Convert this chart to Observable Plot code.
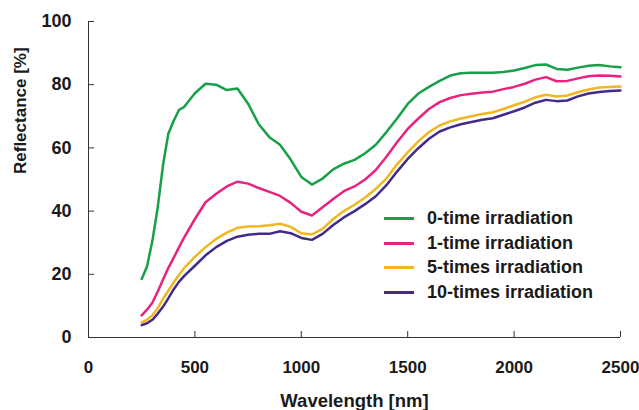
<!DOCTYPE html>
<html>
<head>
<meta charset="utf-8">
<script src="https://cdn.jsdelivr.net/npm/d3@7"></script>
<script src="https://cdn.jsdelivr.net/npm/@observablehq/plot@0.6"></script>
<style>
  html, body { margin: 0; padding: 0; background: #fff; }
  #wrap { position: relative; width: 639px; height: 410px; font-family: "Liberation Sans", Arial, sans-serif; }
  #legend { position: absolute; left: 384px; top: 206px; }
  .item { display: flex; align-items: center; height: 24.8px; }
  .swatch { width: 30px; height: 3px; margin-right: 13px; }
  .label { font-size: 18px; font-weight: bold; color: #1a1a1a; white-space: nowrap; }
</style>
</head>
<body>
<div id="wrap"></div>
<script>
// ---- data ----
const wavelengths = [250, 275, 300, 325, 350, 375, 400, 425, 450, 500, 550, 600, 650, 700, 750, 800, 850, 900, 950, 1000, 1050, 1100, 1150, 1200, 1250, 1300, 1350, 1400, 1450, 1500, 1550, 1600, 1650, 1700, 1750, 1800, 1850, 1900, 1950, 2000, 2050, 2100, 2150, 2200, 2250, 2300, 2350, 2400, 2450, 2500];
const seriesNames = ["0-time irradiation", "1-time irradiation", "5-times irradiation", "10-times irradiation"];
const seriesColors = ["#17a047", "#e8237e", "#f2b620", "#432a8a"];
const time0 = [18.5, 22.5, 30.5, 41, 54.5, 64.5, 68.5, 72, 73, 77.3, 80.3, 80, 78.3, 78.8, 74, 67.5, 63.4, 61, 56.3, 50.8, 48.4, 50.3, 53.2, 55, 56.2, 58.3, 61, 65, 69.3, 73.9, 77.2, 79.3, 81.2, 82.9, 83.6, 83.8, 83.8, 83.8, 84, 84.5, 85.3, 86.2, 86.4, 85, 84.7, 85.4, 86, 86.2, 85.8, 85.5];
const time1 = [7, 8.8, 11, 14.5, 18.3, 22, 25.2, 28.5, 31.7, 37.5, 42.8, 45.5, 47.8, 49.3, 48.7, 47.3, 46.1, 44.8, 42.6, 39.8, 38.6, 41.2, 43.8, 46.3, 47.8, 50, 53, 57.2, 61.8, 66, 69.3, 72.3, 74.5, 75.8, 76.7, 77.1, 77.5, 77.8, 78.6, 79.3, 80.3, 81.6, 82.4, 81.1, 81.2, 82, 82.7, 82.9, 82.8, 82.6];
const times5 = [4.8, 5.6, 7, 9.2, 12.2, 14.8, 17.4, 19.8, 22, 25.5, 28.6, 31.2, 33.2, 34.7, 35.1, 35.2, 35.5, 36, 35, 33, 32.6, 34.4, 37.5, 40, 42, 44.3, 47, 50.3, 54.8, 58.6, 62.1, 65, 67.1, 68.4, 69.3, 70, 70.7, 71.3, 72.3, 73.5, 74.6, 76, 76.8, 76.3, 76.6, 77.6, 78.5, 79.1, 79.3, 79.4];
const times10 = [3.9, 4.5, 5.6, 7.5, 9.7, 12.4, 15.2, 17.6, 19.5, 22.7, 26, 28.6, 30.6, 31.9, 32.5, 32.8, 32.8, 33.6, 33, 31.5, 30.9, 32.8, 35.6, 38, 40, 42.2, 44.7, 48.2, 52.5, 56.5, 59.9, 62.9, 65.2, 66.5, 67.5, 68.2, 68.9, 69.4, 70.5, 71.6, 72.8, 74.3, 75.2, 74.8, 75, 76.3, 77.2, 77.7, 78, 78.2];
const xTicks = [0, 500, 1000, 1500, 2000, 2500];
const yTicks = [0, 20, 40, 60, 80, 100];
const xTitle = "Wavelength [nm]";
const yTitle = "Reflectance [%]";

const allValues = [time0, time1, times5, times10];
const rows = seriesNames.flatMap((s, i) => wavelengths.map((w, j) => ({series: s, wl: w, r: allValues[i][j]})));

const chart = Plot.plot({
  width: 639,
  height: 410,
  marginLeft: 88,
  marginRight: 19,
  marginTop: 21,
  marginBottom: 73,
  x: {domain: [0, 2500]},
  y: {domain: [0, 100]},
  color: {domain: seriesNames, range: seriesColors},
  style: {fontFamily: '"Liberation Sans", Arial, sans-serif', background: "white", color: "#1a1a1a"},
  marks: [
    Plot.axisX(xTicks, {tickSize: -6, tickPadding: 29, fontSize: 17, fontWeight: "bold", label: null, stroke: "#333", tickFormat: d => String(d)}),
    Plot.axisY(yTicks, {tickSize: -6, tickPadding: 23, fontSize: 18, fontWeight: "bold", label: null, stroke: "#333", tickFormat: d => String(d)}),
    Plot.ruleX([0], {stroke: "#333"}),
    Plot.ruleY([0], {stroke: "#333"}),
    Plot.line(rows, {x: "wl", y: "r", z: "series", stroke: "series", strokeWidth: 2.5, strokeLinejoin: "round"}),
    Plot.text([xTitle], {text: d => d, frameAnchor: "bottom", dy: 56, lineAnchor: "top", fontSize: 18.5, fontWeight: "bold"}),
    Plot.text([yTitle], {text: d => d, frameAnchor: "left", dx: -68, dy: -5.5, rotate: -90, fontSize: 17, fontWeight: "bold"})
  ]
});

const wrap = document.getElementById("wrap");
wrap.appendChild(chart);

const legend = document.createElement("div");
legend.id = "legend";
seriesNames.forEach((s, i) => {
  const item = document.createElement("div");
  item.className = "item";
  const sw = document.createElement("div");
  sw.className = "swatch";
  sw.style.background = seriesColors[i];
  const lb = document.createElement("span");
  lb.className = "label";
  lb.textContent = s;
  item.appendChild(sw);
  item.appendChild(lb);
  legend.appendChild(item);
});
wrap.appendChild(legend);
</script>
</body>
</html>
